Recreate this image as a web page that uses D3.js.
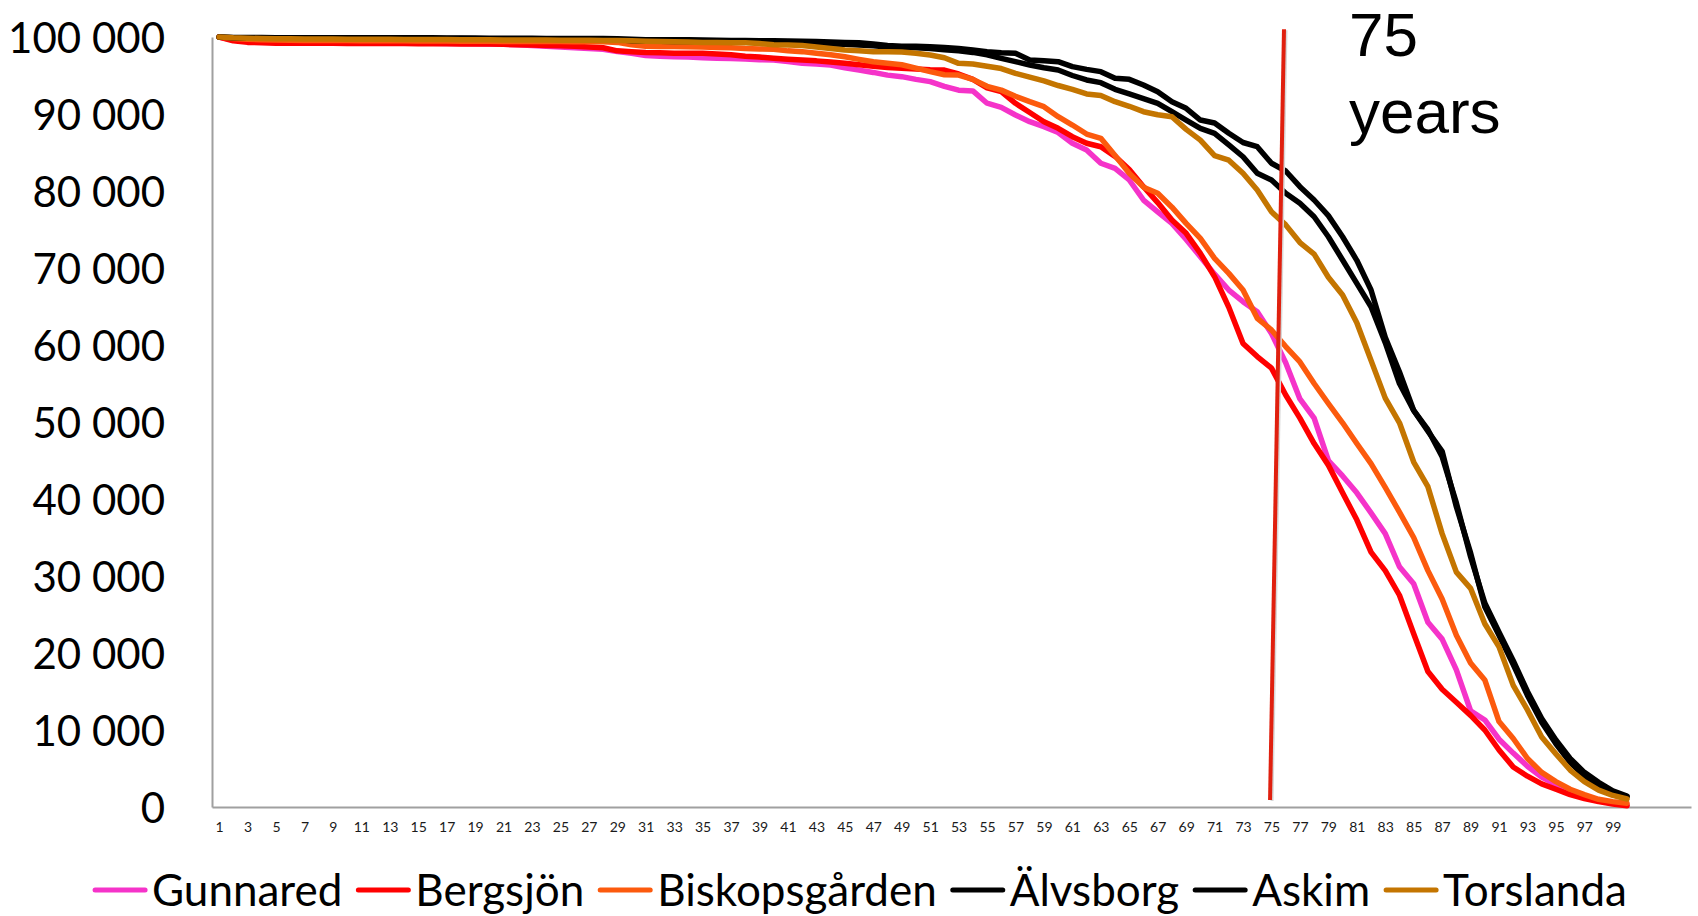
<!DOCTYPE html>
<html>
<head>
<meta charset="utf-8">
<script src="https://cdn.jsdelivr.net/npm/d3@7"></script>
<style>
  html, body { margin: 0; padding: 0; background: #fff; }
  svg { display: block; }
</style>
</head>
<body>
<svg id="chart" width="1698" height="916"></svg>
<script>
// ---------- DATA ----------
const ages = d3.range(1, 101);               // categories: age 1..100
const xTickLabels = d3.range(1, 100, 2);     // 1, 3, 5, ... 99
const yTicks = [0, 10000, 20000, 30000, 40000, 50000, 60000, 70000, 80000, 90000, 100000];

const seriesNames = ["Gunnared", "Bergsjön", "Biskopsgården", "Älvsborg", "Askim", "Torslanda"];
const seriesColors = ["#f533c9", "#ff0000", "#fc5a0d", "#000000", "#000000", "#c47500"];

const gunnared = [
100000, 99600, 99400, 99350, 99300, 99300, 99300, 99280, 99270, 99260,
99250, 99240, 99230, 99220, 99200, 99180, 99160, 99140, 99120, 99100,
99050, 99000, 98900, 98800, 98700, 98600, 98500, 98400, 98100, 97900,
97600, 97500, 97450, 97400, 97300, 97250, 97200, 97150, 97050, 97000,
96800, 96600, 96500, 96350, 96000, 95700, 95400, 95050, 94850, 94500,
94200, 93600, 93100, 93000, 91400, 90870, 89870, 89000, 88350, 87600,
86190, 85330, 83600, 82950, 81430, 78830, 77300, 75800, 73700, 71470,
69200, 67140, 65630, 64330, 61500, 57700, 53000, 50500, 45000, 43000,
40800, 38200, 35500, 31200, 29000, 24000, 21800, 17800, 12500, 11300,
8800, 7000, 5300, 3900, 2900, 2000, 1400, 900, 500, 260];

const bergsjon = [
100000, 99500, 99300, 99250, 99200, 99200, 99200, 99180, 99180, 99170,
99160, 99150, 99150, 99140, 99130, 99120, 99110, 99100, 99090, 99080,
99050, 99000, 98950, 98900, 98850, 98800, 98700, 98600, 98200, 98100,
98000, 97950, 97900, 97900, 97880, 97800, 97700, 97500, 97400, 97230,
97100, 97000, 96900, 96750, 96600, 96400, 96200, 96050, 95930, 95850,
95750, 95700, 95200, 94500, 93400, 92900, 91390, 90200, 89000, 88140,
87050, 86200, 85750, 84500, 82800, 80560, 78500, 76230, 74500, 71900,
68870, 64900, 60200, 58500, 57000, 53500, 50500, 47200, 44400, 40800,
37300, 33100, 30700, 27500, 22500, 17600, 15300, 13600, 11900, 10000,
7400, 5200, 4000, 3000, 2300, 1600, 1100, 700, 400, 150];

const biskopsgarden = [
100000, 99800, 99700, 99650, 99600, 99580, 99560, 99550, 99540, 99530,
99520, 99510, 99500, 99500, 99490, 99480, 99470, 99460, 99450, 99440,
99430, 99420, 99410, 99400, 99400, 99390, 99380, 99370, 99300, 99000,
98800, 98780, 98760, 98740, 98700, 98650, 98600, 98500, 98450, 98400,
98200, 98100, 97900, 97700, 97440, 97100, 96790, 96600, 96400, 95950,
95500, 95100, 95060, 94500, 93600, 93100, 92300, 91600, 90950, 89650,
88570, 87400, 86840, 84600, 82300, 80500, 79700, 77900, 75800, 73850,
71250, 69300, 67140, 63460, 61950, 59800, 57800, 55000, 52400, 49900,
47200, 44600, 41500, 38300, 35000, 30700, 27000, 22300, 18700, 16500,
11100, 8900, 6300, 4500, 3300, 2300, 1600, 1000, 700, 500];

const alvsborg = [
100000, 99950, 99930, 99920, 99910, 99900, 99900, 99900, 99900, 99900,
99900, 99900, 99900, 99900, 99900, 99890, 99880, 99870, 99860, 99850,
99850, 99840, 99830, 99820, 99810, 99800, 99800, 99790, 99780, 99700,
99650, 99650, 99640, 99630, 99600, 99580, 99560, 99540, 99520, 99500,
99480, 99450, 99400, 99350, 99300, 99250, 99100, 98900, 98800, 98800,
98750, 98650, 98500, 98300, 98100, 97950, 97880, 97010, 96900, 96800,
96150, 95800, 95500, 94630, 94500, 93770, 92900, 91600, 90740, 89220,
88830, 87500, 86300, 85750, 83600, 82600, 80560, 78830, 76800, 74060,
71000, 67140, 61000, 56500, 51500, 49000, 45500, 39500, 32500, 26500,
22700, 19000, 15000, 11500, 8700, 6300, 4500, 3200, 2100, 1430];

const askim = [
100000, 99900, 99880, 99870, 99860, 99850, 99850, 99850, 99840, 99840,
99830, 99830, 99820, 99820, 99810, 99800, 99800, 99790, 99780, 99770,
99760, 99750, 99740, 99730, 99720, 99710, 99700, 99690, 99680, 99500,
99450, 99440, 99430, 99420, 99400, 99380, 99350, 99320, 99300, 99280,
99250, 99200, 99150, 99100, 99050, 98950, 98850, 98700, 98650, 98600,
98500, 98350, 98200, 98000, 97700, 97230, 96800, 96360, 96000, 95710,
95000, 94420, 94070, 93200, 92600, 92000, 91390, 90300, 89220, 88140,
87490, 86000, 84450, 82300, 81430, 79700, 78400, 76660, 74060, 71040,
68010, 64970, 60300, 55000, 51500, 48800, 46200, 39000, 33000, 26000,
22300, 18500, 14500, 11000, 8200, 5800, 4000, 2800, 1900, 1300];

const torslanda = [
100000, 99900, 99850, 99800, 99780, 99760, 99750, 99740, 99730, 99720,
99710, 99700, 99700, 99690, 99680, 99670, 99660, 99650, 99640, 99630,
99620, 99610, 99600, 99600, 99590, 99580, 99570, 99560, 99550, 99500,
99450, 99400, 99380, 99360, 99300, 99280, 99260, 99240, 99150, 99000,
98960, 98900, 98700, 98500, 98310, 98200, 98100, 98090, 98050, 97900,
97660, 97300, 96580, 96490, 96200, 95900, 95280, 94800, 94300, 93700,
93200, 92600, 92400, 91600, 91000, 90300, 89900, 89650, 88000, 86600,
84600, 84000, 82300, 80130, 77300, 75600, 73300, 71800, 68800, 66500,
62900, 58000, 53100, 49900, 44800, 41600, 35500, 30500, 28400, 23800,
20800, 15800, 12600, 9100, 6900, 4800, 3300, 2200, 1500, 1040];

const seriesValues = [gunnared, bergsjon, biskopsgarden, alvsborg, askim, torslanda];

// marker line at 75 years (drawn slightly slanted as in the original)
const markerLine = [{age: 74.9, value: 900}, {age: 75.88, value: 101000}];
const annotationLines = ["75", "years"];

// ---------- LAYOUT ----------
const svg = d3.select("#chart");
const plot = {left: 212, right: 1691, top: 37, bottom: 807};
const numCategories = 104; // category axis extends past the last data point

const x = d3.scaleLinear().domain([0.5, numCategories + 0.5]).range([plot.left, plot.right]);
const y = d3.scaleLinear().domain([0, 100000]).range([plot.bottom, plot.top]);

const fmt = d3.formatLocale({decimal: ".", thousands: " ", grouping: [3], currency: ["", ""]}).format(",");

// Y axis
const yAxis = svg.append("g")
  .attr("transform", `translate(${plot.left},0)`)
  .call(d3.axisLeft(y).tickValues(yTicks).tickSize(0).tickSizeOuter(0).tickPadding(47).tickFormat(fmt));
yAxis.select(".domain").attr("stroke", "#a0a0a0").attr("stroke-width", 2);
yAxis.selectAll("text")
  .attr("font-family", "Lato, 'Open Sans', sans-serif")
  .attr("font-size", 42)
  .attr("fill", "#000")
  .attr("dy", "0.36em");

// X axis
const xAxisG = svg.append("g")
  .attr("transform", `translate(0,${plot.bottom})`)
  .call(d3.axisBottom(x).tickValues(xTickLabels).tickSize(0).tickSizeOuter(0).tickPadding(15).tickFormat(d3.format("d")));
xAxisG.select(".domain").attr("stroke", "#a0a0a0").attr("stroke-width", 2);
xAxisG.selectAll("text")
  .attr("font-family", "Lato, 'Open Sans', sans-serif")
  .attr("font-size", 14)
  .attr("fill", "#1a1a1a");

// Lines
const line = d3.line()
  .x((d, i) => x(ages[i]))
  .y(d => y(d));

svg.append("g").selectAll("path")
  .data(seriesValues)
  .join("path")
  .attr("d", d => line(d))
  .attr("fill", "none")
  .attr("stroke", (d, i) => seriesColors[i])
  .attr("stroke-width", 5.5)
  .attr("stroke-linejoin", "round")
  .attr("stroke-linecap", "round");

// 75-year marker line (with a faint shadow)
const mline = d3.line().x(d => x(d.age)).y(d => y(d.value));
svg.append("path")
  .attr("d", mline(markerLine))
  .attr("transform", "translate(2,1)")
  .attr("fill", "none")
  .attr("stroke", "#d8d8d8")
  .attr("stroke-width", 3);
svg.append("path")
  .attr("d", mline(markerLine))
  .attr("fill", "none")
  .attr("stroke", "#e0200f")
  .attr("stroke-width", 4);

// Annotation
const ann = svg.append("text")
  .attr("x", 1349)
  .attr("y", 56)
  .attr("font-family", "'Liberation Sans', Arial, sans-serif")
  .attr("font-size", 62)
  .attr("fill", "#000");
ann.selectAll("tspan")
  .data(annotationLines)
  .join("tspan")
  .attr("x", 1349)
  .attr("dy", (d, i) => i === 0 ? 0 : 77)
  .text(d => d);

// Legend
const legend = svg.append("g");
const legendY = 890;
let cursor = 0;
seriesNames.forEach((name, i) => {
  const g = legend.append("g").attr("transform", `translate(${cursor},0)`);
  g.append("line")
    .attr("x1", 2).attr("x2", 52)
    .attr("y1", legendY).attr("y2", legendY)
    .attr("stroke", seriesColors[i])
    .attr("stroke-width", 5)
    .attr("stroke-linecap", "round");
  const t = g.append("text")
    .attr("x", 59)
    .attr("y", legendY)
    .attr("dy", "0.36em")
    .attr("font-family", "Lato, 'Open Sans', sans-serif")
    .attr("font-size", 44)
    .attr("fill", "#000")
    .text(name);
  const w = t.node().getComputedTextLength();
  cursor += 59 + w + 14;
});
const totalW = cursor - 14;
legend.attr("transform", `translate(${860 - totalW / 2},0)`);
</script>
</body>
</html>
